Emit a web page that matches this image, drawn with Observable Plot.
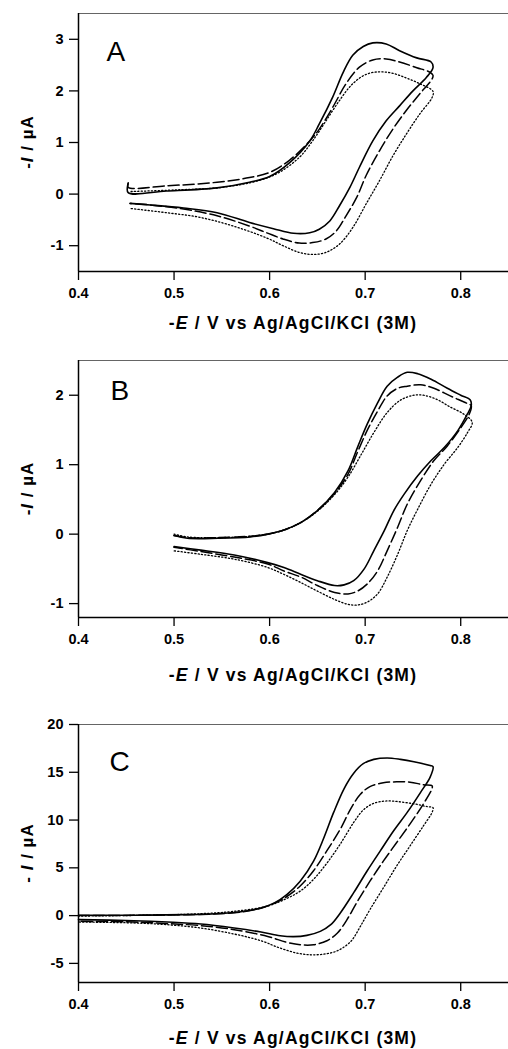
<!DOCTYPE html>
<html><head><meta charset="utf-8">
<script src="https://cdn.jsdelivr.net/npm/d3@7"></script>
<script src="https://cdn.jsdelivr.net/npm/@observablehq/plot@0.6"></script>
<style>
html,body{margin:0;padding:0;background:#fff}
#chart svg{display:block}
</style>
</head><body><div id="chart"></div>
<script>
// Shared tick values
const xTicks = [0.4, 0.5, 0.6, 0.7, 0.8];
const yTicksA = [-1, 0, 1, 2, 3];
const yTicksB = [-1, 0, 1, 2];
const yTicksC = [-5, 0, 5, 10, 15, 20];
const panelLetters = ["A", "B", "C"];

// Panel A: [E (V), I (µA)] along the scan
const aSolid = [[0.452,0.20],[0.452,0.03],[0.492,0.06],[0.545,0.12],[0.579,0.23],[0.600,0.34],[0.621,0.61],[0.642,1.03],[0.652,1.36],[0.666,1.88],[0.677,2.36],[0.687,2.69],[0.698,2.86],[0.708,2.93],[0.722,2.91],[0.736,2.78],[0.754,2.64],[0.769,2.56],[0.771,2.45],[0.764,2.26],[0.750,2.00],[0.736,1.71],[0.722,1.42],[0.708,1.03],[0.694,0.52],[0.684,0.13],[0.673,-0.23],[0.663,-0.52],[0.652,-0.68],[0.642,-0.75],[0.625,-0.76],[0.604,-0.67],[0.579,-0.55],[0.545,-0.36],[0.510,-0.27],[0.475,-0.21],[0.454,-0.18]];
const aDashed = [[0.452,0.22],[0.452,0.13],[0.492,0.16],[0.545,0.23],[0.579,0.32],[0.600,0.42],[0.621,0.66],[0.642,1.03],[0.652,1.26],[0.666,1.68],[0.680,2.14],[0.694,2.46],[0.708,2.60],[0.722,2.62],[0.736,2.56],[0.754,2.45],[0.768,2.36],[0.771,2.30],[0.770,2.23],[0.757,1.94],[0.743,1.62],[0.729,1.26],[0.715,0.84],[0.701,0.36],[0.691,-0.07],[0.680,-0.42],[0.670,-0.71],[0.659,-0.87],[0.645,-0.94],[0.631,-0.95],[0.614,-0.87],[0.597,-0.75],[0.579,-0.62],[0.545,-0.42],[0.510,-0.29],[0.475,-0.21],[0.454,-0.18]];
const aDotted = [[0.455,0.05],[0.500,0.08],[0.550,0.13],[0.590,0.27],[0.610,0.42],[0.631,0.71],[0.645,1.03],[0.659,1.42],[0.673,1.81],[0.687,2.14],[0.701,2.32],[0.715,2.37],[0.729,2.34],[0.743,2.25],[0.757,2.14],[0.771,1.99],[0.770,1.87],[0.757,1.55],[0.743,1.16],[0.729,0.74],[0.715,0.26],[0.701,-0.19],[0.687,-0.65],[0.673,-0.97],[0.659,-1.13],[0.645,-1.17],[0.631,-1.13],[0.614,-1.00],[0.597,-0.85],[0.562,-0.62],[0.527,-0.45],[0.492,-0.36],[0.455,-0.28]];

// Panel B
const bSolid = [[0.500,-0.02],[0.514,-0.06],[0.546,-0.06],[0.580,-0.04],[0.598,0.00],[0.615,0.06],[0.633,0.17],[0.650,0.34],[0.668,0.60],[0.682,0.91],[0.692,1.25],[0.702,1.58],[0.713,1.89],[0.723,2.13],[0.734,2.26],[0.744,2.33],[0.755,2.31],[0.769,2.23],[0.786,2.10],[0.800,2.00],[0.810,1.93],[0.811,1.85],[0.807,1.73],[0.797,1.49],[0.783,1.25],[0.769,1.06],[0.755,0.84],[0.741,0.58],[0.730,0.34],[0.720,0.05],[0.709,-0.24],[0.699,-0.50],[0.688,-0.67],[0.678,-0.73],[0.668,-0.74],[0.650,-0.67],[0.633,-0.58],[0.615,-0.48],[0.598,-0.41],[0.563,-0.30],[0.528,-0.23],[0.500,-0.18]];
const bDashed = [[0.500,-0.02],[0.514,-0.05],[0.546,-0.05],[0.580,-0.03],[0.598,0.00],[0.615,0.06],[0.633,0.17],[0.650,0.34],[0.668,0.59],[0.682,0.86],[0.692,1.18],[0.702,1.49],[0.713,1.77],[0.723,1.99],[0.734,2.10],[0.744,2.13],[0.758,2.15],[0.772,2.10],[0.789,1.99],[0.807,1.88],[0.811,1.85],[0.809,1.73],[0.800,1.53],[0.786,1.27],[0.772,1.06],[0.758,0.77],[0.744,0.43],[0.734,0.10],[0.723,-0.24],[0.713,-0.53],[0.702,-0.72],[0.692,-0.82],[0.682,-0.86],[0.668,-0.84],[0.650,-0.74],[0.633,-0.62],[0.615,-0.53],[0.598,-0.43],[0.563,-0.33],[0.528,-0.25],[0.500,-0.19]];
const bDotted = [[0.500,0.00],[0.514,-0.04],[0.546,-0.05],[0.580,-0.03],[0.598,0.00],[0.615,0.06],[0.633,0.17],[0.650,0.33],[0.668,0.57],[0.682,0.82],[0.696,1.15],[0.709,1.46],[0.723,1.75],[0.737,1.93],[0.751,2.00],[0.761,2.00],[0.775,1.94],[0.789,1.83],[0.803,1.73],[0.812,1.61],[0.807,1.46],[0.797,1.25],[0.783,1.01],[0.769,0.72],[0.755,0.36],[0.744,0.05],[0.734,-0.29],[0.723,-0.62],[0.713,-0.86],[0.702,-0.98],[0.692,-1.02],[0.682,-1.01],[0.668,-0.94],[0.650,-0.82],[0.633,-0.70],[0.615,-0.58],[0.598,-0.48],[0.563,-0.36],[0.528,-0.29],[0.500,-0.24]];

// Panel C
const cSolid = [[0.400,0.04],[0.458,0.04],[0.511,0.10],[0.545,0.20],[0.570,0.40],[0.591,0.80],[0.605,1.33],[0.618,2.2],[0.632,3.6],[0.646,5.7],[0.657,8.2],[0.667,10.8],[0.678,13.3],[0.688,14.9],[0.698,15.9],[0.709,16.35],[0.723,16.5],[0.737,16.35],[0.751,16.1],[0.768,15.7],[0.771,15.6],[0.768,14.5],[0.758,12.9],[0.744,10.8],[0.730,8.9],[0.716,6.8],[0.702,4.67],[0.688,2.4],[0.674,0.28],[0.664,-0.95],[0.653,-1.65],[0.639,-2.07],[0.625,-2.2],[0.611,-2.1],[0.591,-1.72],[0.563,-1.3],[0.528,-0.88],[0.493,-0.67],[0.458,-0.53],[0.400,-0.42]];
const cDashed = [[0.400,0.0],[0.458,0.03],[0.511,0.09],[0.545,0.19],[0.570,0.38],[0.591,0.78],[0.605,1.3],[0.618,2.0],[0.632,3.1],[0.646,4.7],[0.660,6.8],[0.674,9.05],[0.685,11.2],[0.695,12.7],[0.705,13.5],[0.719,13.9],[0.733,14.0],[0.747,13.96],[0.761,13.7],[0.770,13.6],[0.770,13.3],[0.761,11.7],[0.747,9.6],[0.733,7.65],[0.719,5.7],[0.705,3.6],[0.691,1.33],[0.681,-0.42],[0.671,-1.82],[0.660,-2.63],[0.646,-3.05],[0.632,-3.05],[0.618,-2.8],[0.598,-2.18],[0.563,-1.47],[0.528,-1.05],[0.493,-0.84],[0.458,-0.67],[0.400,-0.6]];
const cDotted = [[0.400,-0.05],[0.458,0.02],[0.528,0.20],[0.563,0.45],[0.598,1.0],[0.618,1.8],[0.632,2.56],[0.646,3.8],[0.660,5.5],[0.674,7.5],[0.688,9.75],[0.698,11.05],[0.709,11.75],[0.723,12.0],[0.737,11.9],[0.751,11.7],[0.765,11.4],[0.771,11.3],[0.770,10.8],[0.761,9.4],[0.747,7.3],[0.733,5.2],[0.719,2.9],[0.705,0.63],[0.695,-1.12],[0.685,-2.7],[0.671,-3.68],[0.657,-4.03],[0.643,-4.1],[0.629,-3.93],[0.611,-3.4],[0.591,-2.63],[0.563,-1.93],[0.528,-1.3],[0.493,-0.95],[0.458,-0.77],[0.400,-0.67]];

const FONT = "'Liberation Sans', Arial, Helvetica, sans-serif";

const panels = [
  {letter: panelLetters[0], solid: aSolid, dashed: aDashed, dotted: aDotted, yDomain: [-1.5, 3.5], yTicks: yTicksA,
   height: 340, mt: 13, mb: 69, xLabelY: 323, letterDx: 28, letterDy: 28, yLabelPrefix: "-"},
  {letter: panelLetters[1], solid: bSolid, dashed: bDashed, dotted: bDotted, yDomain: [-1.2, 2.5], yTicks: yTicksB,
   height: 350, mt: 20, mb: 73, xLabelY: 335, letterDx: 32, letterDy: 20, yLabelPrefix: "-"},
  {letter: panelLetters[2], solid: cSolid, dashed: cDashed, dotted: cDotted, yDomain: [-7, 20], yTicks: yTicksC,
   height: 359, mt: 34, mb: 67, xLabelY: 348, letterDx: 31, letterDy: 27, yLabelPrefix: "- "}
];

const root = document.getElementById("chart");
for (const p of panels) {
  const line = (data, extra) => Plot.line(data, {x: d => d[0], y: d => d[1], curve: "catmull-rom", stroke: "black", ...extra});
  const svg = Plot.plot({
    width: 508, height: p.height,
    marginLeft: 78, marginRight: 0, marginTop: p.mt, marginBottom: p.mb,
    style: {fontFamily: FONT, background: "white", overflow: "visible", color: "black"},
    x: {domain: [0.4, 0.85]},
    y: {domain: p.yDomain},
    marks: [
      Plot.frame({stroke: "#555", strokeWidth: 0.9}),
      Plot.ruleX([0.4], {stroke: "black", strokeWidth: 1.5}),
      Plot.ruleY([p.yDomain[0]], {stroke: "black", strokeWidth: 1.5}),
      Plot.axisX(xTicks, {tickSize: 9, tickPadding: 7, tickFormat: d3.format(".1f"), fontSize: 14.5, fontWeight: "bold", label: null, strokeWidth: 1.3}),
      Plot.axisY(p.yTicks, {tickSize: 9, tickPadding: 6, tickFormat: d => String(d), fontSize: 14.5, fontWeight: "bold", label: null, strokeWidth: 1.3}),
      line(p.dotted, {strokeWidth: 1.3, strokeDasharray: "1.2,2.2"}),
      line(p.dashed, {strokeWidth: 1.5, strokeDasharray: "11,4"}),
      line(p.solid, {strokeWidth: 1.6}),
      Plot.text([p.letter], {frameAnchor: "top-left", dx: p.letterDx, dy: p.letterDy, fontSize: 28, fill: "black", text: d => d})
    ]
  });
  const s = d3.select(svg);
  const xl = s.append("text")
    .attr("x", 293).attr("y", p.xLabelY).attr("dy", "0.35em")
    .attr("text-anchor", "middle").attr("font-size", 17.5).attr("font-weight", "bold")
    .attr("letter-spacing", "1.2px").attr("fill", "black");
  xl.append("tspan").text("-");
  xl.append("tspan").attr("font-style", "italic").text("E");
  xl.append("tspan").text(" / V vs Ag/AgCl/KCl (3M)");
  const cy = (p.mt + (p.height - p.mb)) / 2;
  const yl = s.append("text")
    .attr("transform", `translate(27,${cy}) rotate(-90)`).attr("dy", "0.35em")
    .attr("text-anchor", "middle").attr("font-size", 17).attr("font-weight", "bold")
    .attr("letter-spacing", "1px").attr("fill", "black");
  yl.append("tspan").text(p.yLabelPrefix);
  yl.append("tspan").attr("font-style", "italic").text("I");
  yl.append("tspan").text(" / µA");
  root.appendChild(svg);
}
</script></body></html>
